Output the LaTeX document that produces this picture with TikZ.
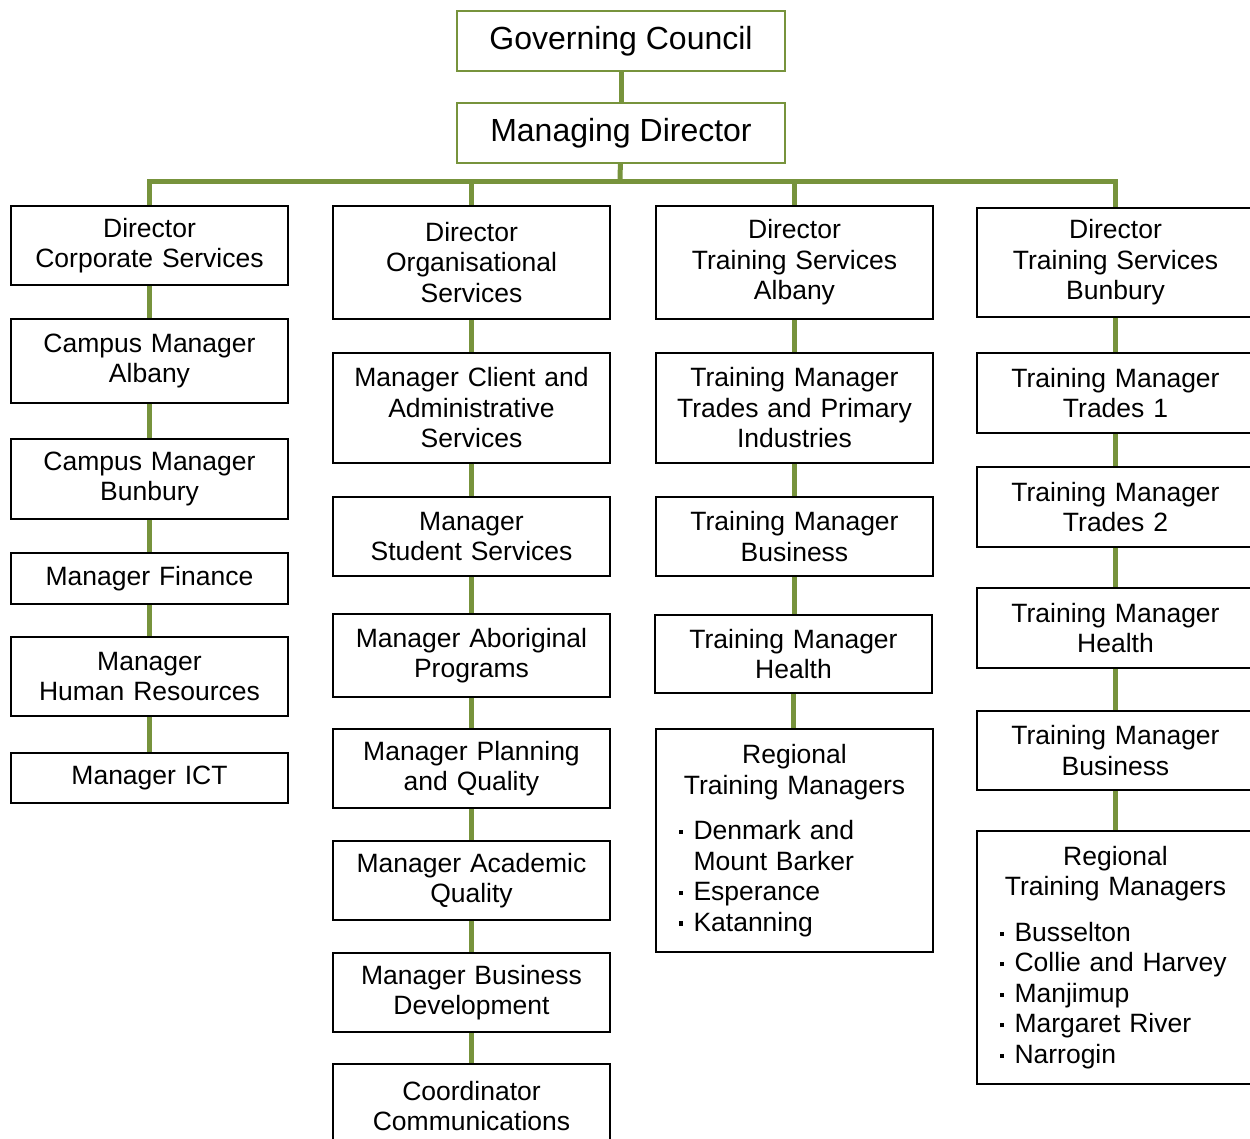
\documentclass[tikz,border=0pt]{standalone}
\usepackage{fontspec}
\setmainfont{Liberation Sans}
\usepackage{xcolor}
\usetikzlibrary{positioning}

\definecolor{orggreen}{HTML}{77933C}
\newcommand{\rtmitem}[1]{\par\noindent\llap{\rule[2.8pt]{2pt}{2pt}\hspace{5.5pt}}#1}

\begin{document}
\begin{tikzpicture}[
    x=0.5pt, y=-0.5pt,
    box/.style={draw, line width=1pt, fill=white, anchor=north west, align=center, minimum width=138.5pt, text width=130pt, inner xsep=4pt, font=\fontsize{13.25pt}{15.25pt}\selectfont},
    listbox/.style={box, align=left},
    topbox/.style={draw=orggreen, line width=1pt, fill=white, anchor=north west, minimum width=164pt, minimum height=30pt, font=\fontsize{16pt}{18.4pt}\selectfont},
    boxh/.style={minimum height=#1*0.5pt},
    link/.style={draw=orggreen, line width=2.5pt}
  ]
    \useasboundingbox (0,0) rectangle (1250,1139);
    \clip (0,0) rectangle (1250,1139);

    % top
    \node[topbox] (gc) at (456,10) {Governing Council};
    \node[topbox] (md) at (456,102) {Managing Director};

    % corporate services
    \node[box, boxh=79] (dcs) at (10,205) {Director\\Corporate Services};
    \node[box, boxh=84] (cma) at (10,318) {Campus Manager\\Albany};
    \node[box, boxh=80] (cmb) at (10,438) {Campus Manager\\Bunbury};
    \node[box, boxh=51] (mfin) at (10,552) {Manager Finance};
    \node[box, boxh=79] (mhr) at (10,636) {Manager\\Human Resources};
    \node[box, boxh=50] (mict) at (10,752) {Manager ICT};

    % organisational services
    \node[box, boxh=113] (dos) at (332,205) {Director\\Organisational\\Services};
    \node[box, boxh=110] (mcas) at (332,352) {Manager Client and\\Administrative\\Services};
    \node[box, boxh=79] (mss) at (332,496) {Manager\\Student Services};
    \node[box, boxh=83] (map) at (332,613) {Manager Aboriginal\\Programs};
    \node[box, boxh=79] (mpq) at (332,728) {Manager Planning\\and Quality};
    \node[box, boxh=79] (maq) at (332,840) {Manager Academic\\Quality};
    \node[box, boxh=79] (mbd) at (332,952) {Manager Business\\Development};
    \node[box, boxh=84] (ccom) at (332,1063) {Coordinator\\Communications};

    % training services albany
    \node[box, boxh=113] (dtsa) at (655,205) {Director\\Training Services\\Albany};
    \node[box, boxh=110] (tmtpi) at (655,352) {Training Manager\\Trades and Primary\\Industries};
    \node[box, boxh=79] (tmbusa) at (655,496) {Training Manager\\Business};
    \node[box, boxh=78] (tmhlta) at (654,614) {Training Manager\\Health};
    \node[listbox, boxh=223] (rtma) at (655,728) {{\centering Regional\par Training Managers\par}\vspace{7.5pt}%
      \leftskip=14.5pt
      \rtmitem{Denmark and\newline Mount Barker}
      \rtmitem{Esperance}
      \rtmitem{Katanning}\par};

    % training services bunbury
    \node[box, boxh=109] (dtsb) at (976,207) {Director\\Training Services\\Bunbury};
    \node[box, boxh=80] (tmt1) at (976,352) {Training Manager\\Trades 1};
    \node[box, boxh=80] (tmt2) at (976,466) {Training Manager\\Trades 2};
    \node[box, boxh=80] (tmhltb) at (976,587) {Training Manager\\Health};
    \node[box, boxh=79] (tmbusb) at (976,710) {Training Manager\\Business};
    \node[listbox, boxh=253] (rtmb) at (976,830) {{\centering Regional\par Training Managers\par}\vspace{7.5pt}%
      \leftskip=14.5pt
      \rtmitem{Busselton}
      \rtmitem{Collie and Harvey}
      \rtmitem{Manjimup}
      \rtmitem{Margaret River}
      \rtmitem{Narrogin}\par};

    % connectors
    \coordinate (bus) at (620,182);
    \draw[link] (gc) -- (md);
    \draw[link] (md) -- (bus);
    \foreach \d in {dcs,dos,dtsa,dtsb}
      \draw[link, line join=miter] (bus) -| (\d.north);
    \foreach \a/\b in {dcs/cma,cma/cmb,cmb/mfin,mfin/mhr,mhr/mict,
                       dos/mcas,mcas/mss,mss/map,map/mpq,mpq/maq,maq/mbd,mbd/ccom,
                       dtsa/tmtpi,tmtpi/tmbusa,tmbusa/tmhlta,tmhlta/rtma,
                       dtsb/tmt1,tmt1/tmt2,tmt2/tmhltb,tmhltb/tmbusb,tmbusb/rtmb}
      \draw[link] (\a.south) -- (\a.south |- \b.north);
  \end{tikzpicture}
\end{document}
